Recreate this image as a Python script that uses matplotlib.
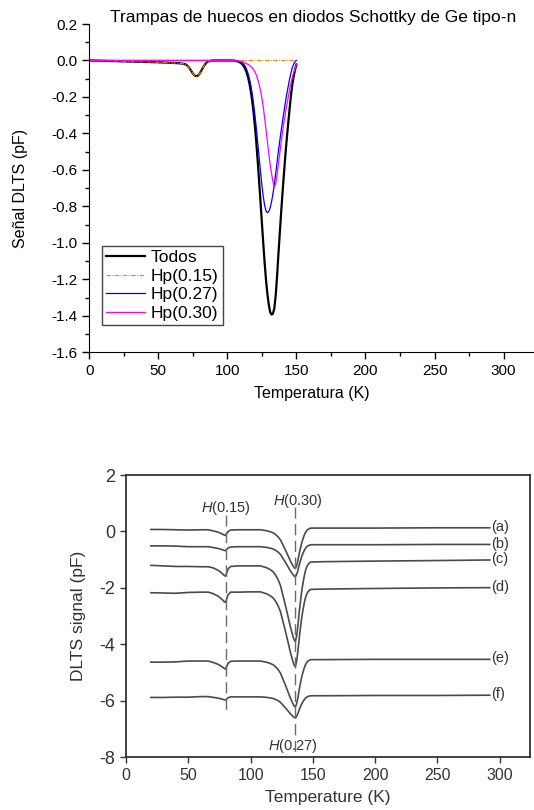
import numpy as np
import matplotlib
matplotlib.use('Agg')
import matplotlib.pyplot as plt
from matplotlib.ticker import MultipleLocator

plt.rcParams['font.family'] = ['Liberation Sans', 'DejaVu Sans']
plt.rcParams['mathtext.fontset'] = 'custom'
plt.rcParams['mathtext.it'] = 'Liberation Sans:italic'
plt.rcParams['mathtext.rm'] = 'Liberation Sans'
plt.rcParams['axes.unicode_minus'] = False

# %% Simulated DLTS components (top panel)

t_todos = [0, 10, 20, 30, 40, 50, 60, 66, 68, 70, 71, 72, 73, 74, 75, 76, 77, 78, 79, 80,
           81, 82, 83, 84, 85, 86, 88, 90, 95, 100, 104, 106, 108] + list(range(110, 151))
todos = [0.0, -0.002, -0.004, -0.006, -0.008, -0.010, -0.013, -0.016, -0.018, -0.022,
         -0.028, -0.036, -0.047, -0.059, -0.071, -0.080, -0.085, -0.086, -0.081, -0.071,
         -0.058, -0.044, -0.031, -0.020, -0.012, -0.006, -0.002, 0.0, 0.0, 0.0, 0.0, -0.002, -0.006,
         -0.015, -0.022, -0.033, -0.047, -0.067, -0.092, -0.126, -0.169, -0.222, -0.287,
         -0.364, -0.453, -0.553, -0.661, -0.774, -0.887, -1.001, -1.109, -1.205, -1.280,
         -1.338, -1.380, -1.393, -1.388, -1.360, -1.290, -1.183, -1.060, -0.943, -0.828,
         -0.720, -0.618, -0.520, -0.431, -0.350, -0.270, -0.195, -0.135, -0.088, -0.052, -0.022]

t_hp015 = [0, 10, 20, 30, 40, 50, 60, 66, 68, 70, 71, 72, 73, 74, 75, 76, 77, 78, 79, 80,
           81, 82, 83, 84, 85, 86, 88, 90, 150]
hp015 = [0.0, -0.002, -0.004, -0.006, -0.008, -0.010, -0.013, -0.016, -0.018, -0.022,
         -0.028, -0.036, -0.047, -0.059, -0.071, -0.080, -0.085, -0.086, -0.081, -0.071,
         -0.058, -0.044, -0.031, -0.020, -0.012, -0.006, -0.002, 0.0, 0.0]

t_hp = [0, 104, 106, 108] + list(range(110, 151))
hp027 = [0.0, 0.0, -0.001, -0.003,
         -0.009, -0.014, -0.022, -0.033, -0.049, -0.071, -0.099, -0.136, -0.182, -0.237,
         -0.301, -0.373, -0.450, -0.531, -0.609, -0.682, -0.746, -0.794, -0.825, -0.835,
         -0.828, -0.808, -0.775, -0.732, -0.680, -0.621, -0.558, -0.495, -0.438, -0.383,
         -0.330, -0.280, -0.230, -0.185, -0.145, -0.105, -0.070, -0.040, -0.020, -0.007, 0.0]
hp030 = [0.0, 0.0, -0.001, -0.003,
         -0.006, -0.008, -0.011, -0.014, -0.018, -0.021, -0.027, -0.033, -0.040, -0.050,
         -0.063, -0.080, -0.103, -0.130, -0.165, -0.205, -0.255, -0.315, -0.380, -0.445,
         -0.510, -0.570, -0.620, -0.665, -0.697, -0.675, -0.625, -0.565, -0.505, -0.445,
         -0.390, -0.338, -0.290, -0.246, -0.205, -0.165, -0.125, -0.095, -0.068, -0.045, -0.022]

# %% Measured DLTS spectra (bottom panel)

t_meas = [20, 30, 40, 50, 60, 66, 70, 74, 77, 79, 80, 81, 82, 84, 90, 100, 108,
          113, 116, 118, 120, 122, 124, 126, 128, 130, 132, 134, 135, 136, 137, 138,
          139, 140, 141, 142, 143, 144, 145, 146, 148, 150, 160, 200, 250, 292]
spec_a = [0.07, 0.07, 0.06, 0.05, 0.06, 0.06, 0.021, -0.026, -0.083, -0.13, -0.14, -0.064,
          0.002, 0.05, 0.06, 0.06, 0.06, 0.025, -0.014, -0.046, -0.106, -0.188, -0.298,
          -0.478, -0.658, -0.854, -1.048, -1.214, -1.283, -1.31, -1.21, -1.025, -0.798,
          -0.599, -0.415, -0.272, -0.144, -0.044, 0.028, 0.072, 0.117, 0.12, 0.12, 0.12, 0.13, 0.13]
spec_b = [-0.51, -0.51, -0.52, -0.54, -0.54, -0.54, -0.57, -0.602, -0.641, -0.674, -0.68,
          -0.628, -0.583, -0.55, -0.54, -0.54, -0.54, -0.565, -0.594, -0.617, -0.664, -0.728,
          -0.813, -0.954, -1.095, -1.247, -1.399, -1.529, -1.583, -1.603, -1.524, -1.378,
          -1.198, -1.042, -0.896, -0.783, -0.682, -0.602, -0.545, -0.51, -0.473, -0.47,
          -0.47, -0.47, -0.46, -0.46]
spec_c = [-1.20, -1.22, -1.24, -1.24, -1.25, -1.25, -1.291, -1.376, -1.478, -1.563, -1.58,
          -1.444, -1.325, -1.24, -1.22, -1.22, -1.22, -1.286, -1.359, -1.422, -1.54, -1.699,
          -1.915, -2.268, -2.621, -3.003, -3.384, -3.709, -3.845, -3.897, -3.699, -3.336,
          -2.89, -2.498, -2.135, -1.855, -1.602, -1.405, -1.263, -1.176, -1.087, -1.08,
          -1.07, -1.05, -1.03, -1.01]
spec_d = [-2.17, -2.18, -2.19, -2.16, -2.15, -2.15, -2.204, -2.294, -2.402, -2.492, -2.51,
          -2.366, -2.24, -2.15, -2.15, -2.14, -2.14, -2.21, -2.286, -2.349, -2.466, -2.625,
          -2.838, -3.185, -3.533, -3.909, -4.284, -4.604, -4.738, -4.79, -4.598, -4.244,
          -3.808, -3.426, -3.072, -2.799, -2.553, -2.361, -2.224, -2.14, -2.054, -2.05,
          -2.04, -2.02, -2.0, -1.99]
spec_e = [-4.63, -4.63, -4.62, -4.59, -4.59, -4.59, -4.641, -4.708, -4.789, -4.857, -4.87,
          -4.762, -4.668, -4.60, -4.59, -4.59, -4.59, -4.634, -4.68, -4.719, -4.792, -4.888,
          -5.019, -5.233, -5.446, -5.676, -5.906, -6.103, -6.185, -6.217, -6.099, -5.882,
          -5.615, -5.382, -5.165, -4.998, -4.848, -4.73, -4.646, -4.595, -4.542, -4.54,
          -4.54, -4.53, -4.53, -4.53]
spec_f = [-5.88, -5.88, -5.87, -5.87, -5.85, -5.85, -5.877, -5.904, -5.937, -5.965, -5.97,
          -5.926, -5.888, -5.86, -5.86, -5.86, -5.86, -5.878, -5.898, -5.915, -5.949, -5.993,
          -6.053, -6.151, -6.249, -6.355, -6.461, -6.551, -6.589, -6.603, -6.548, -6.447,
          -6.323, -6.215, -6.114, -6.036, -5.966, -5.911, -5.871, -5.847, -5.822, -5.82,
          -5.82, -5.81, -5.81, -5.80]
spectra = [spec_a, spec_b, spec_c, spec_d, spec_e, spec_f]
spec_labels = ['(a)', '(b)', '(c)', '(d)', '(e)', '(f)']

trap_t = [80, 136]
trap_span = [(0.58, -6.5), (0.88, -7.8)]

# %% Figure

fig = plt.figure(figsize=(5.34, 8.10), dpi=100)

ax1 = fig.add_axes([89.2/534, 1 - 352.3/810, (534 - 89.2)/534, (352.3 - 24)/810])
ax1.plot(t_todos, todos, color='black', lw=1.6, label='Todos')
ax1.plot(t_hp015, hp015, color='#ff8000', lw=0.8, ls=(0, (4, 1.2, 1, 1.2)), label='Hp(0.15)')
ax1.plot(t_hp, hp027, color='#0000ff', lw=0.9, label='Hp(0.27)')
ax1.plot(t_hp, hp030, color='#ff00ff', lw=0.9, label='Hp(0.30)')
ax1.set_xlim(0, 322)
ax1.set_ylim(-1.6, 0.2)
ax1.xaxis.set_major_locator(MultipleLocator(50))
ax1.xaxis.set_minor_locator(MultipleLocator(25))
ax1.yaxis.set_major_locator(MultipleLocator(0.2))
ax1.yaxis.set_minor_locator(MultipleLocator(0.1))
ax1.yaxis.set_major_formatter(matplotlib.ticker.FuncFormatter(lambda v, p: '%.1f' % v))
for s in ['top', 'right']:
    ax1.spines[s].set_visible(False)
ax1.tick_params(which='major', direction='out', length=5, width=1, labelsize=11)
ax1.tick_params(which='minor', direction='out', length=3, width=1)
ax1.set_xlabel('Temperatura (K)', fontsize=11.5, labelpad=6)
ax1.set_ylabel('Señal DLTS (pF)', fontsize=11.5)
ax1.yaxis.set_label_coords(-0.138, 0.5)
fig.text(0.587, 0.979, 'Trampas de huecos en diodos Schottky de Ge tipo-n',
         ha='center', va='center', fontsize=12.5)
leg = ax1.legend(loc='lower left', bbox_to_anchor=(0.029, 0.082), borderaxespad=0,
                 fontsize=12.5, fancybox=False, framealpha=1, edgecolor='#444444',
                 handlelength=2.2, handletextpad=0.35, labelspacing=0.2, borderpad=0.25)
leg.get_frame().set_linewidth(1.0)

ax2 = fig.add_axes([126/534, 1 - 757.3/810, (529.6 - 126)/534, (757.3 - 475)/810])
gray = '#4a4a4a'
for y, lab in zip(spectra, spec_labels):
    ax2.plot(t_meas, y, color=gray, lw=1.2)
    ax2.text(t_meas[-1] + 1.5, y[-1] + 0.03, lab, ha='left', va='center', fontsize=10.5, color='#333333')
for t, (y0, y1) in zip(trap_t, trap_span):
    ax2.plot([t, t], [y0, y1], color='#6a6a6a', lw=1.0, ls=(0, (8, 4)))
ax2.text(80, 0.82, r'$H$(0.15)', ha='center', va='center', fontsize=10.5, color='#333333')
ax2.text(138, 1.09, r'$H$(0.30)', ha='center', va='center', fontsize=10.5, color='#333333')
ax2.text(134, -7.6, r'$H$(0.27)', ha='center', va='center', fontsize=10.5, color='#333333')
ax2.set_xlim(0, 324)
ax2.set_ylim(-8, 2)
ax2.set_xticks(range(0, 301, 50))
ax2.set_yticks(range(-8, 3, 2))
for s in ax2.spines.values():
    s.set_color('#333333')
    s.set_linewidth(1.3)
ax2.tick_params(axis='x', direction='out', length=4, width=1, colors='#333333', labelsize=11.5)
ax2.tick_params(axis='y', direction='out', length=4, width=1, colors='#333333', labelsize=13)
ax2.set_xlabel('Temperature (K)', fontsize=12.5, color='#333333', labelpad=5)
ax2.set_ylabel('DLTS signal (pF)', fontsize=12.5, color='#333333')
ax2.yaxis.set_label_coords(-0.099, 0.5)

fig.savefig('out.png', dpi=100)
